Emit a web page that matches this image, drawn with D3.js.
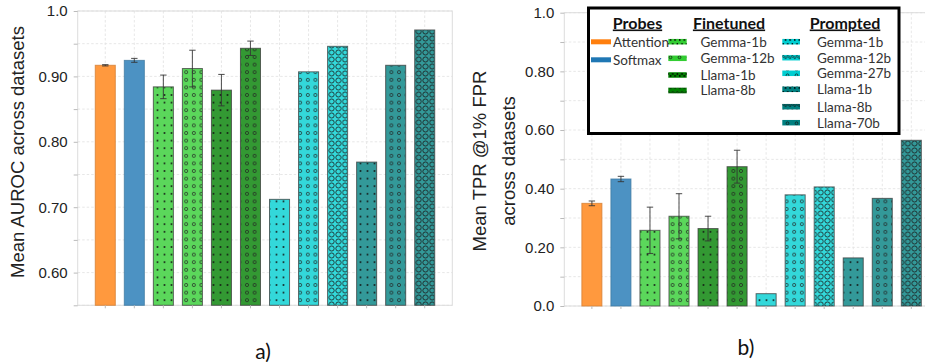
<!DOCTYPE html>
<html>
<head>
<meta charset="utf-8">
<script src="https://cdn.jsdelivr.net/npm/d3@7"></script>
<style>
  body { margin: 0; background: #fff; }
  svg { display: block; }
</style>
</head>
<body>
<svg id="chart" width="925" height="362"></svg>
<script>
// ---- data ----
const methodIds = ["attn", "softmax", "ft-g1", "ft-g12", "ft-l1", "ft-l8",
                   "pr-g1", "pr-g12", "pr-g27", "pr-l1", "pr-l8", "pr-l70"];
const methodNames = ["Attention", "Softmax", "Gemma-1b", "Gemma-12b", "Llama-1b", "Llama-8b",
                     "Gemma-1b", "Gemma-12b", "Gemma-27b", "Llama-1b", "Llama-8b", "Llama-70b"];
const methodGroups = ["Probes", "Probes", "Finetuned", "Finetuned", "Finetuned", "Finetuned",
                      "Prompted", "Prompted", "Prompted", "Prompted", "Prompted", "Prompted"];

const aurocMean = [0.917, 0.9245, 0.884, 0.912, 0.879, 0.943, 0.712, 0.907, 0.946, 0.769, 0.917, 0.971];
const aurocErr  = [0.001, 0.003, 0.018, 0.028, 0.024, 0.011, 0, 0, 0, 0, 0, 0];
const tprMean   = [0.350, 0.433, 0.258, 0.306, 0.264, 0.475, 0.042, 0.379, 0.406, 0.164, 0.367, 0.565];
const tprErr    = [0.008, 0.009, 0.079, 0.077, 0.042, 0.056, 0, 0, 0, 0, 0, 0];

const aurocTicks = [0.55, 0.60, 0.65, 0.70, 0.75, 0.80, 0.85, 0.90, 0.95, 1.0];
const aurocTickLabels = ["", "0.60", "", "0.70", "", "0.80", "", "0.90", "", "1.0"];
const tprTicks = [0.0, 0.1, 0.2, 0.3, 0.4, 0.5, 0.6, 0.7, 0.8, 0.9, 1.0];
const tprTickLabels = ["0.0", "", "0.20", "", "0.40", "", "0.60", "", "0.80", "", "1.0"];

// ---- styles ----
const solidColors = {
  orange: "#ff7f0e", blue: "#1f77b4", lime: "#32cd32",
  green: "#008000", turquoise: "#00ced1", teal: "#008080"
};
const barColorKeys = ["orange", "blue", "lime", "lime", "green", "green",
                      "turquoise", "turquoise", "turquoise", "teal", "teal", "teal"];
const barHatches = ["", "", "dot", "o", "dot", "o", "dot", "o", "O", "dot", "o", "O"];
const legendHatches = ["", "", "dot", "o", "dot", "oo", "dot", "oo", "o", "dot", "oo", "o"];

const svg = d3.select("#chart");
const defs = svg.append("defs");

// hatch patterns drawn over the coloured bars
function hatchPattern(id, w, h, draw) {
  const p = defs.append("pattern")
    .attr("id", id).attr("patternUnits", "userSpaceOnUse")
    .attr("width", w).attr("height", h);
  draw(p);
}
hatchPattern("h-dot", 7, 7.6, p => {
  p.append("circle").attr("cx", 3.5).attr("cy", 3.8).attr("r", 1.05).attr("fill", "#111");
});
hatchPattern("h-o", 7.6, 7.6, p => {
  p.append("circle").attr("cx", 3.8).attr("cy", 3.8).attr("r", 1.55)
    .attr("fill", "none").attr("stroke", "#222").attr("stroke-width", 0.85);
});
hatchPattern("h-O", 6.7, 7.0, p => {
  p.append("circle").attr("cx", 3.35).attr("cy", 3.5).attr("r", 2.55)
    .attr("fill", "none").attr("stroke", "#1a1a1a").attr("stroke-width", 0.95);
});
// smaller versions for the legend swatches
hatchPattern("l-dot", 4.6, 6, p => {
  p.append("circle").attr("cx", 1.2).attr("cy", 1.9).attr("r", 0.85).attr("fill", "#000");
  p.append("circle").attr("cx", 3.5).attr("cy", 3.9).attr("r", 0.85).attr("fill", "#000");
});
hatchPattern("l-o", 9, 6, p => {
  p.append("circle").attr("cx", 4.5).attr("cy", 3.3).attr("r", 1.4)
    .attr("fill", "none").attr("stroke", "#111").attr("stroke-width", 0.7);
});
hatchPattern("l-oo", 4.6, 6, p => {
  p.append("circle").attr("cx", 1.2).attr("cy", 2.4).attr("r", 0.95)
    .attr("fill", "none").attr("stroke", "#111").attr("stroke-width", 0.6);
  p.append("circle").attr("cx", 3.5).attr("cy", 3.7).attr("r", 0.95)
    .attr("fill", "none").attr("stroke", "#111").attr("stroke-width", 0.6);
});

function faded(hex, a) {
  const c = d3.rgb(hex);
  return d3.rgb(c.r * a + 255 * (1 - a), c.g * a + 255 * (1 - a), c.b * a + 255 * (1 - a)).formatHex();
}

const tickFont = "'Liberation Sans', Arial, sans-serif";

function drawPanel(cfg) {
  const g = svg.append("g");
  const x = d3.scaleBand().domain(methodIds)
    .range([cfg.left, cfg.left + cfg.width])
    .paddingInner(0.31).paddingOuter(0.605);
  const y = d3.scaleLinear().domain(cfg.domain).range([cfg.bottom, cfg.top]);
  const right = cfg.left + cfg.width;

  // grid
  const grid = g.append("g").attr("stroke", "#e4e4e4").attr("stroke-width", 0.9)
    .attr("stroke-dasharray", "2.5,2");
  grid.selectAll("line.gy").data(cfg.ticks).join("line")
    .attr("x1", cfg.left).attr("x2", right)
    .attr("y1", d => y(d)).attr("y2", d => y(d));
  grid.selectAll("line.gx").data(methodIds).join("line")
    .attr("x1", d => x(d) + x.bandwidth() / 2).attr("x2", d => x(d) + x.bandwidth() / 2)
    .attr("y1", cfg.top).attr("y2", cfg.bottom);

  // frame
  g.append("rect").attr("x", cfg.left).attr("y", cfg.top)
    .attr("width", cfg.width).attr("height", cfg.bottom - cfg.top)
    .attr("fill", "none").attr("stroke", "#dcdcdc").attr("stroke-width", 1);

  const rows = methodIds.map((id, i) => ({
    id, v: cfg.values[i], e: cfg.errs[i],
    color: solidColors[barColorKeys[i]], hatch: barHatches[i]
  }));

  // bars
  g.selectAll("rect.bar").data(rows).join("rect")
    .attr("x", d => x(d.id)).attr("width", x.bandwidth())
    .attr("y", d => y(d.v)).attr("height", d => y(cfg.domain[0]) - y(d.v))
    .attr("fill", d => faded(d.color, 0.8))
    .attr("stroke", d => d.hatch ? "#3a3a3a" : d3.rgb(faded(d.color, 0.8)).darker(0.5))
    .attr("stroke-opacity", d => d.hatch ? 0.75 : 0.8)
    .attr("stroke-width", 1);
  g.selectAll("rect.hatch").data(rows.filter(d => d.hatch)).join("rect")
    .attr("x", d => x(d.id) + 0.5).attr("width", x.bandwidth() - 1)
    .attr("y", d => y(d.v) + 0.5).attr("height", d => y(cfg.domain[0]) - y(d.v) - 0.5)
    .attr("fill", d => `url(#h-${d.hatch})`).attr("opacity", 0.85);

  // error bars
  const eb = g.append("g").attr("stroke", "#333").attr("stroke-opacity", 0.8).attr("stroke-width", 1.1);
  rows.filter(d => d.e > 0).forEach(d => {
    const cx = x(d.id) + x.bandwidth() / 2;
    eb.append("line").attr("x1", cx).attr("x2", cx).attr("y1", y(d.v - d.e)).attr("y2", y(d.v + d.e));
    [d.v - d.e, d.v + d.e].forEach(v => {
      eb.append("line").attr("x1", cx - 3.2).attr("x2", cx + 3.2).attr("y1", y(v)).attr("y2", y(v));
    });
  });

  // axes
  const yAxis = g.append("g").attr("transform", `translate(${cfg.left},0)`)
    .call(d3.axisLeft(y).tickValues(cfg.ticks).tickSize(4).tickPadding(6)
      .tickFormat((d, i) => cfg.tickLabels[i]));
  yAxis.select(".domain").remove();
  yAxis.selectAll("line").attr("stroke", "#bbb");
  yAxis.selectAll("text").attr("font-family", tickFont).attr("font-size", 15).attr("fill", "#222");

  const xAxis = g.append("g").attr("transform", `translate(0,${cfg.bottom})`)
    .call(d3.axisBottom(x).tickSize(3).tickFormat(""));
  xAxis.select(".domain").remove();
  xAxis.selectAll("line").attr("stroke", "#bbb");

  // axis title
  const lab = g.append("text").attr("font-family", tickFont).attr("font-size", 18.5)
    .attr("fill", "#222").attr("text-anchor", "middle")
    .attr("transform", `translate(${cfg.labelX},${cfg.labelY}) rotate(-90)`);
  cfg.label.forEach((line, i) => {
    lab.append("tspan").attr("x", 0).attr("dy", i === 0 ? 0 : 29).text(line);
  });

  // panel tag
  g.append("text").attr("x", cfg.tagX).attr("y", cfg.tagY)
    .attr("font-family", "Lato, 'Open Sans', sans-serif").attr("font-size", 21)
    .attr("fill", "#111").attr("text-anchor", "middle").text(cfg.tag);
}

drawPanel({
  left: 77.7, width: 374.6, top: 11, bottom: 305.3, domain: [0.55, 1.0],
  values: aurocMean, errs: aurocErr, ticks: aurocTicks, tickLabels: aurocTickLabels,
  label: ["Mean AUROC across datasets"], labelX: 24, labelY: 152,
  tag: "a)", tagX: 263, tagY: 359
});
drawPanel({
  left: 564.3, width: 374.6, top: 12.7, bottom: 306, domain: [0, 1.0],
  values: tprMean, errs: tprErr, ticks: tprTicks, tickLabels: tprTickLabels,
  label: ["Mean TPR @1% FPR", "across datasets"], labelX: 486, labelY: 161,
  tag: "b)", tagX: 746, tagY: 355
});

// ---- legend ----
const legendFont = "Lato, 'Open Sans', sans-serif";
const lg = svg.append("g");
lg.append("rect").attr("x", 588.5).attr("y", 8).attr("width", 310.5).attr("height", 125.5)
  .attr("fill", "#fff").attr("stroke", "#000").attr("stroke-width", 3);

const legendCols = [
  { group: "Probes",    titleX: 637.5, swX: 591,   swW: 20,   textX: 613 },
  { group: "Finetuned", titleX: 729,   swX: 668.3, swW: 18.4, textX: 700.5 },
  { group: "Prompted",  titleX: 845,   swX: 782.3, swW: 17.7, textX: 817 }
];
const rowYs = {
  Probes: [41.8, 59.8],
  Finetuned: [41.7, 58.3, 75, 90.5],
  Prompted: [41.7, 57.7, 73.3, 89.3, 106.7, 122.7]
};

legendCols.forEach(col => {
  lg.append("text").attr("x", col.titleX).attr("y", 28.5)
    .attr("text-anchor", "middle").attr("font-family", legendFont)
    .attr("font-weight", "bold").attr("font-size", 16).attr("fill", "#111")
    .attr("text-decoration", "underline").text(col.group);
  const idx = methodIds.map((d, i) => i).filter(i => methodGroups[i] === col.group);
  idx.forEach((i, k) => {
    const cy = rowYs[col.group][k];
    const h = legendHatches[i] ? 5.5 : 5;
    lg.append("rect").attr("x", col.swX).attr("y", cy - h / 2)
      .attr("width", col.swW).attr("height", h)
      .attr("fill", solidColors[barColorKeys[i]]);
    if (legendHatches[i]) {
      lg.append("rect").attr("x", col.swX).attr("y", cy - h / 2)
        .attr("width", col.swW).attr("height", h)
        .attr("fill", `url(#l-${legendHatches[i]})`);
    }
    lg.append("text").attr("x", col.textX).attr("y", cy + 4.8)
      .attr("font-family", legendFont).attr("font-size", 13.5).attr("fill", "#333")
      .text(methodNames[i]);
  });
});
</script>
</body>
</html>
